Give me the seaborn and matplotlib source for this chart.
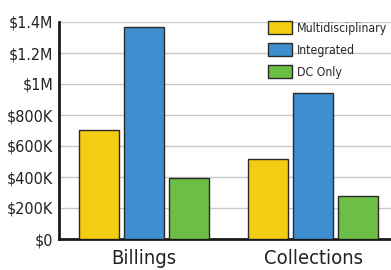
import numpy as np
import pandas as pd
import matplotlib
matplotlib.use("Agg")
import matplotlib.pyplot as plt
import seaborn as sns

categories = ["Billings", "Collections"]
series = ["Multidisciplinary", "Integrated", "DC Only"]
multi = [703000, 518000]
integrated = [1370000, 945000]
dc_only = [392000, 280000]
colors = ["#F2CD12", "#3F8FD0", "#6DBE45"]
ytick_vals = [0, 200000, 400000, 600000, 800000, 1000000, 1200000, 1400000]
ytick_labels = ["$0", "$200K", "$400K", "$600K", "$800K", "$1M", "$1.2M", "$1.4M"]

df = pd.DataFrame({
    "category": categories * 3,
    "series": [s for s in series for _ in categories],
    "value": multi + integrated + dc_only,
})

sns.set_style("white")
plt.rcParams["font.family"] = ["DejaVu Sans"]
plt.rcParams["font.stretch"] = "condensed"

fig = plt.figure(figsize=(3.91, 2.70), dpi=100)
ax = fig.add_axes([59 / 391, 31 / 270, 332 / 391, 217 / 270])

sns.barplot(data=df, x="category", y="value", hue="series", hue_order=series,
            palette=colors, saturation=1, edgecolor="#2a2a2a", linewidth=1.0,
            gap=0.11, width=0.8, ax=ax, zorder=3)

ax.set_ylim(0, 1400000)
ax.set_xlim(-0.503, 1.46)
ax.set_yticks(ytick_vals)
ax.set_yticklabels(ytick_labels, fontsize=11.5)
ax.tick_params(axis="y", length=0, pad=4, colors="#222222")
ax.tick_params(axis="x", length=0, pad=7, labelsize=14.5, colors="#222222")
ax.set_xlabel("")
ax.set_ylabel("")
ax.yaxis.grid(True, color="#c8c8c8", linewidth=1.0, zorder=0)
ax.set_axisbelow(True)

for s in ["top", "right"]:
    ax.spines[s].set_visible(False)
for s in ["left", "bottom"]:
    ax.spines[s].set_color("#1a1a1a")
    ax.spines[s].set_linewidth(2.0)

leg = ax.legend(loc="upper left", bbox_to_anchor=(0.615, 1.025), frameon=False,
                fontsize=8.8, handlelength=1.95, handleheight=1.15,
                labelspacing=0.72, handletextpad=0.4, borderaxespad=0)

fig.savefig("out.png", dpi=100)
